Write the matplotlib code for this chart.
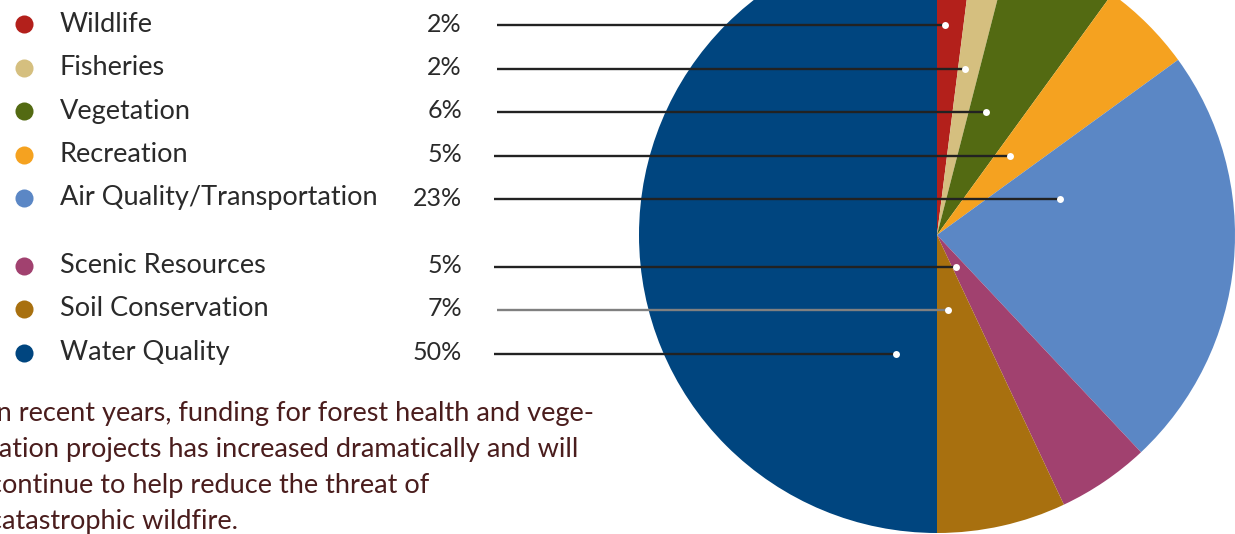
import numpy as np
import matplotlib.pyplot as plt
from matplotlib import rcParams

rcParams['font.family'] = ['Lato', 'DejaVu Sans']

# Data
categories = ['Wildlife', 'Fisheries', 'Vegetation', 'Recreation',
              'Air Quality/Transportation', 'Scenic Resources',
              'Soil Conservation', 'Water Quality']
shares = [2, 2, 6, 5, 23, 5, 7, 50]
colors = ['#B3201B', '#D5BF7F', '#536A12', '#F5A220', '#5B87C5',
          '#A1416F', '#A8700F', '#00457F']
paragraph = ['In recent years, funding for forest health and vege-',
             'tation projects has increased dramatically and will',
             'continue to help reduce the threat of',
             'catastrophic wildfire.']

W, H = 1235, 534
fig = plt.figure(figsize=(W / 100, H / 100), dpi=100)
ax = fig.add_axes([0, 0, 1, 1])

# pie, drawn in pixel coords with y pointing down
cx, cy, R = 937, 235, 298
wedges, _ = ax.pie(shares, colors=colors, startangle=-90, counterclock=True,
                   center=(cx, cy), radius=R,
                   wedgeprops=dict(linewidth=0))
ax.set_xlim(0, W)
ax.set_ylim(H, 0)
ax.set_aspect('auto')
ax.axis('off')

# legend rows
row_y0, row_step, group_gap = 25, 43.5, 24
xs = np.linspace(cx - R, cx + R, 4000)
for i, (name, val, col, w) in enumerate(zip(categories, shares, colors, wedges)):
    y = row_y0 + i * row_step + (group_gap if i >= 5 else 0)
    ax.plot(24, y - 1, 'o', ms=13, color=col, mec='none')
    ax.text(60, y - 1, name, fontsize=19.5, color='#2a2a2a', va='center', ha='left')
    ax.text(462, y - 1, f'{val}%', fontsize=18, color='#2a2a2a', va='center', ha='right')

    # where the leader meets the wedge along this row
    dx = xs - cx
    dy = y - cy
    inside = dx ** 2 + dy ** 2 <= R ** 2
    ang = np.degrees(np.arctan2(dy, dx)) % 360
    t1, t2 = w.theta1 % 360, w.theta2 % 360
    if t1 < t2:
        inw = (ang >= t1) & (ang <= t2)
    else:
        inw = (ang >= t1) | (ang <= t2)
    seg = xs[inside & inw]
    if seg.min() >= cx - 1:
        xe = seg.min() + 0.3 * (seg.max() - seg.min())
    else:
        xe = seg.max() - 0.15 * (seg.max() - seg.min())
    lc = '#808080' if name == 'Soil Conservation' else '#222222'
    x0 = 497 if i in (0, 1, 2, 6) else 494
    ax.plot([x0, xe], [y, y], color=lc, lw=1.7, solid_capstyle='butt')
    ax.plot(xe, y, 'o', ms=5, color='white', mec='none')

# paragraph runs off the left edge, as in the source page
for j, line in enumerate(paragraph):
    ax.text(-11, 413 + j * 36, line, fontsize=19.5, color='#4a1d1d',
            va='center', ha='left')

fig.savefig('out.png', dpi=100)
